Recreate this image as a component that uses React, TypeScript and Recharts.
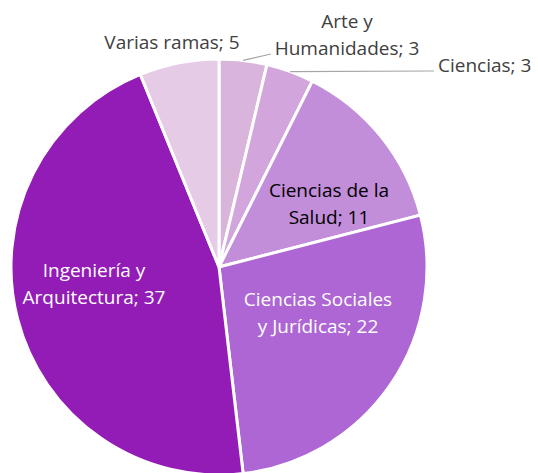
import { PieChart, Pie, Cell } from 'recharts'

const AREAS = ['Arte y Humanidades', 'Ciencias', 'Ciencias de la Salud', 'Ciencias Sociales y Jurídicas', 'Ingeniería y Arquitectura', 'Varias ramas']
const COUNTS = [3, 3, 11, 22, 37, 5]
const COLORS = ['#d9b5dc', '#d2a5dd', '#c28dd9', '#ad66d3', '#921cb5', '#e5cbe6']

// label text lines per slice
const LABEL_LINES = [
  ['Arte y', 'Humanidades; 3'],
  ['Ciencias; 3'],
  ['Ciencias de la', 'Salud; 11'],
  ['Ciencias Sociales', 'y Jurídicas; 22'],
  ['Ingeniería y', 'Arquitectura; 37'],
  ['Varias ramas; 5'],
]

// placement relative to the pie centre: dx, dy, anchor, colour, leader line end
const LABEL_POS = [
  { dx: 128, dy: -233, anchor: 'middle', fill: '#404040', line: [52, -213] },
  { dx: 219, dy: -202, anchor: 'start', fill: '#404040', line: [214, -196] },
  { dx: 110, dy: -64, anchor: 'middle', fill: '#000000' },
  { dx: 99, dy: 45, anchor: 'middle', fill: '#ffffff' },
  { dx: -125, dy: 16, anchor: 'middle', fill: '#ffffff' },
  { dx: -47, dy: -225, anchor: 'middle', fill: '#404040' },
]

const data = AREAS.map((name, i) => ({ name, value: COUNTS[i] }))

const RAD = Math.PI / 180

function renderLabel(props: any) {
  const { cx, cy, midAngle, outerRadius, index } = props
  const pos = LABEL_POS[index]
  const lines = LABEL_LINES[index]
  const x = cx + pos.dx
  const y = cy + pos.dy
  const lh = 27
  const y0 = y - ((lines.length - 1) * lh) / 2
  let leader = null
  if (pos.line) {
    const sx = cx + outerRadius * Math.cos(-midAngle * RAD)
    const sy = cy + outerRadius * Math.sin(-midAngle * RAD)
    leader = (
      <polyline
        points={`${sx},${sy} ${cx + pos.line[0]},${cy + pos.line[1]} ${index === 1 ? `${x - 4},${cy + pos.line[1]}` : ''}`}
        fill="none"
        stroke="#a6a6a6"
        strokeWidth={1.2}
      />
    )
  }
  return (
    <g>
      {leader}
      <text x={x} y={y0} textAnchor={pos.anchor} fill={pos.fill} fontSize={19} dominantBaseline="central">
        {lines.map((l, k) => (
          <tspan key={k} x={x} dy={k === 0 ? 0 : lh}>{l}</tspan>
        ))}
      </text>
    </g>
  )
}

export default function App() {
  return (
    <div style={{ position: 'absolute', left: 0, top: 0, width: 538, height: 473, background: '#fff', fontFamily: '"Open Sans", sans-serif' }}>
      <PieChart width={538} height={473} margin={{ top: 0, right: 0, bottom: 0, left: 0 }}>
        <Pie
          data={data}
          dataKey="value"
          nameKey="name"
          cx={219}
          cy={267}
          outerRadius={208}
          startAngle={90}
          endAngle={-270}
          stroke="#ffffff"
          strokeWidth={3}
          label={renderLabel}
          labelLine={false}
          isAnimationActive={false}
        >
          {data.map((d, i) => (
            <Cell key={d.name} fill={COLORS[i]} />
          ))}
        </Pie>
      </PieChart>
    </div>
  )
}
